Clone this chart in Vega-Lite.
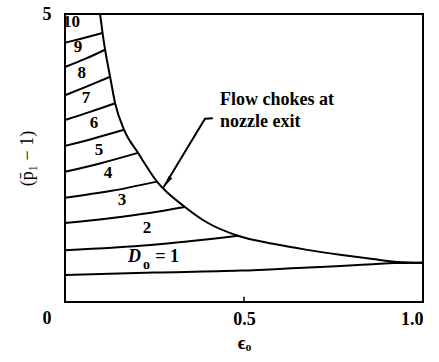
{
  "$schema": "https://vega.github.io/schema/vega-lite/v6.json",
  "width": 358,
  "height": 288,
  "autosize": {"type": "none"},
  "padding": {"left": 65, "top": 14, "right": 16, "bottom": 60},
  "background": "white",
  "config": {
    "view": {"stroke": "black", "strokeWidth": 2},
    "font": "Liberation Serif"
  },
  "encoding": {
    "x": {
      "field": "e", "type": "quantitative",
      "scale": {"domain": [0, 1], "nice": false, "zero": false},
      "axis": {
        "values": [0.5, 1],
        "labelExpr": "datum.value == 1 ? '1.0' : '0.5'",
        "grid": false, "domain": false, "ticks": false,
        "labelFont": "Liberation Serif", "labelFontWeight": "bold", "labelFontSize": 18,
        "labelColor": "black", "labelPadding": 8,
        "title": "ϵₒ", "titleFont": "Liberation Serif", "titleFontWeight": "bold",
        "titleFontSize": 19, "titleColor": "black", "titlePadding": 5
      }
    },
    "y": {
      "field": "y", "type": "quantitative",
      "scale": {"domain": [0, 5], "nice": false, "zero": false},
      "axis": {
        "values": [0, 5],
        "grid": false, "domain": false, "ticks": false,
        "labelFont": "Liberation Serif", "labelFontWeight": "bold", "labelFontSize": 18,
        "labelColor": "black", "labelPadding": 14,
        "labelOffset": {"condition": {"test": "datum.value == 0", "value": 16}, "value": 0},
        "title": "(p̄₁ − 1)", "titleFont": "Liberation Serif", "titleFontWeight": "normal",
        "titleFontSize": 18, "titleColor": "black", "titlePadding": 6
      }
    }
  },
  "layer": [
    {
      "data": {"values": [
        {"s": "D1", "o": 0, "e": 0, "y": 0.47},
        {"s": "D1", "o": 1, "e": 0.25, "y": 0.51},
        {"s": "D1", "o": 2, "e": 0.49, "y": 0.545},
        {"s": "D1", "o": 3, "e": 0.68, "y": 0.6},
        {"s": "D1", "o": 4, "e": 0.77, "y": 0.625},
        {"s": "D1", "o": 5, "e": 0.86, "y": 0.655},
        {"s": "D1", "o": 6, "e": 0.92, "y": 0.675},
        {"s": "D1", "o": 7, "e": 1.0, "y": 0.68},
        {"s": "D2", "o": 0, "e": 0, "y": 0.9},
        {"s": "D2", "o": 1, "e": 0.24, "y": 0.99},
        {"s": "D2", "o": 2, "e": 0.483, "y": 1.15},
        {"s": "D3", "o": 0, "e": 0, "y": 1.37},
        {"s": "D3", "o": 1, "e": 0.12, "y": 1.45},
        {"s": "D3", "o": 2, "e": 0.24, "y": 1.55},
        {"s": "D3", "o": 3, "e": 0.335, "y": 1.65},
        {"s": "D4", "o": 0, "e": 0, "y": 1.81},
        {"s": "D4", "o": 1, "e": 0.13, "y": 1.93},
        {"s": "D4", "o": 2, "e": 0.257, "y": 2.09},
        {"s": "D5", "o": 0, "e": 0, "y": 2.26},
        {"s": "D5", "o": 1, "e": 0.1, "y": 2.41},
        {"s": "D5", "o": 2, "e": 0.204, "y": 2.59},
        {"s": "D6", "o": 0, "e": 0, "y": 2.71},
        {"s": "D6", "o": 1, "e": 0.08, "y": 2.84},
        {"s": "D6", "o": 2, "e": 0.165, "y": 2.99},
        {"s": "D7", "o": 0, "e": 0, "y": 3.16},
        {"s": "D7", "o": 1, "e": 0.07, "y": 3.3},
        {"s": "D7", "o": 2, "e": 0.14, "y": 3.45},
        {"s": "D8", "o": 0, "e": 0, "y": 3.59},
        {"s": "D8", "o": 1, "e": 0.06, "y": 3.74},
        {"s": "D8", "o": 2, "e": 0.126, "y": 3.91},
        {"s": "D9", "o": 0, "e": 0, "y": 4.08},
        {"s": "D9", "o": 1, "e": 0.056, "y": 4.22},
        {"s": "D9", "o": 2, "e": 0.112, "y": 4.38},
        {"s": "D10", "o": 0, "e": 0, "y": 4.5},
        {"s": "D10", "o": 1, "e": 0.05, "y": 4.58},
        {"s": "D10", "o": 2, "e": 0.105, "y": 4.67},
        {"s": "choke", "o": 0, "e": 0.098, "y": 5.0},
        {"s": "choke", "o": 1, "e": 0.105, "y": 4.67},
        {"s": "choke", "o": 2, "e": 0.112, "y": 4.38},
        {"s": "choke", "o": 3, "e": 0.126, "y": 3.91},
        {"s": "choke", "o": 4, "e": 0.14, "y": 3.45},
        {"s": "choke", "o": 5, "e": 0.165, "y": 2.99},
        {"s": "choke", "o": 6, "e": 0.204, "y": 2.59},
        {"s": "choke", "o": 7, "e": 0.257, "y": 2.09},
        {"s": "choke", "o": 8, "e": 0.335, "y": 1.65},
        {"s": "choke", "o": 9, "e": 0.397, "y": 1.38},
        {"s": "choke", "o": 10, "e": 0.483, "y": 1.15},
        {"s": "choke", "o": 11, "e": 0.581, "y": 1.01},
        {"s": "choke", "o": 12, "e": 0.676, "y": 0.905},
        {"s": "choke", "o": 13, "e": 0.768, "y": 0.82},
        {"s": "choke", "o": 14, "e": 0.86, "y": 0.745},
        {"s": "choke", "o": 15, "e": 0.93, "y": 0.695},
        {"s": "choke", "o": 16, "e": 1.0, "y": 0.68}
      ]},
      "mark": {"type": "line", "color": "black", "strokeWidth": 2, "interpolate": "monotone"},
      "encoding": {
        "detail": {"field": "s", "type": "nominal"},
        "order": {"field": "o", "type": "quantitative"}
      }
    },
    {
      "data": {"values": [
        {"s": "arrow", "o": 0, "e": 0.413, "y": 3.19},
        {"s": "arrow", "o": 1, "e": 0.391, "y": 3.18},
        {"s": "arrow", "o": 2, "e": 0.274, "y": 1.98}
      ]},
      "mark": {"type": "line", "color": "black", "strokeWidth": 2},
      "encoding": {
        "order": {"field": "o", "type": "quantitative"}
      }
    },
    {
      "data": {"values": [{"e": 0.287, "y": 2.09}]},
      "mark": {"type": "point", "shape": "M0,-1L0.4,1L-0.4,1Z", "angle": 211, "size": 110, "filled": true, "color": "black", "opacity": 1}
    },
    {
      "data": {"values": [{"e": 0.5, "y": 0, "y2": 0.09}]},
      "mark": {"type": "rule", "color": "black", "strokeWidth": 1.5},
      "encoding": {"y2": {"field": "y2"}}
    },
    {
      "data": {"values": [
        {"e": 0.018, "y": 4.86, "t": "10"},
        {"e": 0.036, "y": 4.43, "t": "9"},
        {"e": 0.047, "y": 3.98, "t": "8"},
        {"e": 0.059, "y": 3.54, "t": "7"},
        {"e": 0.081, "y": 3.11, "t": "6"},
        {"e": 0.095, "y": 2.64, "t": "5"},
        {"e": 0.12, "y": 2.24, "t": "4"},
        {"e": 0.159, "y": 1.77, "t": "3"},
        {"e": 0.229, "y": 1.28, "t": "2"}
      ]},
      "mark": {"type": "text", "font": "Liberation Serif", "fontWeight": "bold", "fontSize": 17, "color": "black", "align": "center", "baseline": "middle"},
      "encoding": {"text": {"field": "t"}}
    },
    {
      "data": {"values": [
        {"e": 0.433, "y": 3.5, "t": "Flow chokes at"},
        {"e": 0.433, "y": 3.12, "t": "nozzle exit"}
      ]},
      "mark": {"type": "text", "font": "Liberation Serif", "fontWeight": "bold", "fontSize": 18, "color": "black", "align": "left", "baseline": "middle"},
      "encoding": {"text": {"field": "t"}}
    },
    {
      "data": {"values": [{"e": 0.176, "y": 0.78, "t": "D"}]},
      "mark": {"type": "text", "font": "Liberation Serif", "fontWeight": "bold", "fontStyle": "italic", "fontSize": 18, "color": "black", "align": "left", "baseline": "middle"},
      "encoding": {"text": {"field": "t"}}
    },
    {
      "data": {"values": [{"e": 0.218, "y": 0.65, "t": "o"}]},
      "mark": {"type": "text", "font": "Liberation Serif", "fontWeight": "bold", "fontSize": 14, "color": "black", "align": "left", "baseline": "middle"},
      "encoding": {"text": {"field": "t"}}
    },
    {
      "data": {"values": [{"e": 0.252, "y": 0.78, "t": "= 1"}]},
      "mark": {"type": "text", "font": "Liberation Serif", "fontWeight": "bold", "fontSize": 18, "color": "black", "align": "left", "baseline": "middle"},
      "encoding": {"text": {"field": "t"}}
    }
  ]
}
